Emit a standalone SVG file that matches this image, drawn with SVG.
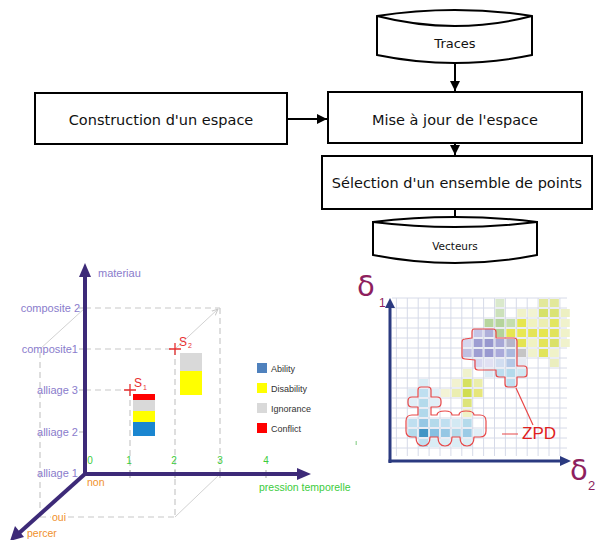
<svg xmlns="http://www.w3.org/2000/svg" width="597" height="540" viewBox="0 0 597 540">
<style>
.box{fill:#fff;stroke:#000;stroke-width:2}
.ft{font-family:"DejaVu Sans",Verdana,sans-serif;fill:#111;text-anchor:middle}
.ch{font-family:"Liberation Sans",Arial,sans-serif}
.lab{fill:#8a7ccc;font-size:11px;text-anchor:end}
.num{fill:#3ccc3c;font-size:10px;text-anchor:middle}
.org{fill:#f0902c;font-size:10.5px}
.dash{stroke:#c8c8c8;stroke-width:1.2;stroke-dasharray:6 4;fill:none}
.thin{stroke:#d2d2d2;stroke-width:1;fill:none}
.tick{stroke:#b8b8b8;stroke-width:1.2}
.leg{fill:#333;font-size:9px}
.red{fill:#e83030}
.cont{fill:none;stroke:#e84848;stroke-width:1.2;stroke-linejoin:round}
</style>
<defs>
<marker id="ah" viewBox="0 0 10 10" refX="10" refY="5" markerWidth="10" markerHeight="10" markerUnits="userSpaceOnUse" orient="auto"><path d="M0,0 L10,5 L0,10 Z" fill="#000"/></marker>
<marker id="ga" viewBox="0 0 10 10" refX="9" refY="5" markerWidth="7" markerHeight="7" markerUnits="userSpaceOnUse" orient="auto"><path d="M0,1 L9,5 L0,9" fill="none" stroke="#c8c8c8" stroke-width="1.4"/></marker>
<filter id="soft" x="-5%" y="-5%" width="110%" height="110%"><feGaussianBlur stdDeviation="0.7"/></filter>
</defs>

<!-- Flowchart -->
<g id="traces">
<path class="box" d="M377 16 Q455 4 532 16 L532 55 Q455 71 377 55 Z"/>
<path d="M377 16 Q455 36 532 16" fill="none" stroke="#000" stroke-width="2"/>
<text class="ft" x="455" y="48" font-size="13">Traces</text>
</g>
<g id="construction">
<rect class="box" x="35" y="93" width="252" height="51"/>
<text class="ft" x="161" y="125" font-size="14.5">Construction d'un espace</text>
</g>
<g id="mise">
<rect class="box" x="328" y="92" width="254" height="51"/>
<text class="ft" x="455" y="125" font-size="14.5">Mise à jour de l'espace</text>
</g>
<g id="selection">
<rect class="box" x="322" y="156" width="270" height="53"/>
<text class="ft" x="457" y="188" font-size="14.5">Sélection d'un ensemble de points</text>
</g>
<g id="vecteurs">
<path class="box" d="M373 222 Q455 212 537 222 L537 255 Q455 271 373 255 Z"/>
<path d="M373 222 Q455 232 537 222" fill="none" stroke="#000" stroke-width="2"/>
<text class="ft" x="455" y="250" font-size="10.5">Vecteurs</text>
</g>
<g id="connectors" stroke="#000" stroke-width="2" fill="none">
<line x1="455" y1="64" x2="455" y2="91" marker-end="url(#ah)"/>
<line x1="287" y1="119" x2="327" y2="119" marker-end="url(#ah)"/>
<line x1="455" y1="144" x2="455" y2="155" marker-end="url(#ah)"/>
<line x1="455" y1="209" x2="455" y2="218"/>
</g>

<!-- 3D chart -->
<g id="chart3d" class="ch">
<path class="dash" d="M85 308 H220 M85 349 H175 M85 390 H130 M130 390 V474 M175 349 V517 M220 308 V474 M40 352 V517 M40 517 H51 M68 517 H175"/>
<path class="thin" d="M40 349 L85 308 M175 517 L220 474"/>
<line class="thin" x1="175" y1="349" x2="218" y2="309" marker-end="url(#ga)"/>
<path class="tick" d="M79 308 H85 M79 349 H85 M79 390 H85 M79 432 H85 M130 470 V478 M175 470 V478 M220 470 V478 M266 470 V478"/>
<g fill="#3d2a78" stroke="none">
<rect x="83" y="272" width="4" height="204"/>
<polygon points="85,263 79,277 91,277"/>
<rect x="85" y="472" width="216" height="4"/>
<polygon points="311,474 297,468 297,480"/>
<line x1="86" y1="473" x2="18" y2="534" stroke="#3d2a78" stroke-width="4"/>
<polygon points="10,541 24,537 15,526"/>
</g>
<text x="98" y="277" fill="#8a7ccc" font-size="11">materiau</text>
<text class="lab" x="80" y="312">composite 2</text>
<text class="lab" x="78" y="353">composite1</text>
<text class="lab" x="78" y="394">alliage 3</text>
<text class="lab" x="78" y="436">alliage 2</text>
<text class="lab" x="78" y="477">alliage 1</text>
<text class="num" x="90" y="464">0</text>
<text class="num" x="129" y="464">1</text>
<text class="num" x="174" y="464">2</text>
<text class="num" x="220" y="464">3</text>
<text class="num" x="266" y="464">4</text>
<text x="259" y="491" fill="#3ccc3c" font-size="10.5">pression temporelle</text>
<text class="org" x="87" y="486">non</text>
<text class="org" x="52" y="521">oui</text>
<text class="org" x="27" y="537">percer</text>
<!-- bars -->
<rect x="133" y="394" width="22" height="6" fill="#ff0000"/>
<rect x="133" y="400" width="22" height="11" fill="#d9d9d9"/>
<rect x="133" y="411" width="22" height="11" fill="#ffff00"/>
<rect x="133" y="422" width="22" height="14" fill="#1a86d0"/>
<rect x="180" y="353" width="22" height="18" fill="#d9d9d9"/>
<rect x="180" y="371" width="22" height="24" fill="#ffff00"/>
<path d="M124 390 H136 M130 384 V396 M169 349 H181 M175 343 V355" stroke="#e83030" stroke-width="1.3"/>
<text class="red" x="134" y="387" font-size="12">S</text>
<text class="red" x="143" y="390" font-size="7">1</text>
<text class="red" x="179" y="346" font-size="12">S</text>
<text class="red" x="188" y="348" font-size="7">2</text>
<!-- legend -->
<rect x="257" y="363" width="10" height="10" fill="#4f81bd"/>
<rect x="257" y="383" width="10" height="10" fill="#ffff00"/>
<rect x="257" y="403" width="10" height="10" fill="#d9d9d9"/>
<rect x="257" y="423" width="10" height="10" fill="#ff0000"/>
<text class="leg" x="271" y="372">Ability</text>
<text class="leg" x="271" y="392">Disability</text>
<text class="leg" x="271" y="412">Ignorance</text>
<text class="leg" x="271" y="432">Conflict</text>
<rect x="355.5" y="441" width="1.5" height="4" fill="#a8dca8"/>
</g>

<!-- ZPD plot -->
<g id="zpd-plot" class="ch">
<path stroke="#d6dae8" stroke-width="1" fill="none" d="M396.4 298 V456 M407.3 298 V456 M418.2 298 V456 M429.1 298 V456 M440 298 V456 M450.9 298 V456 M461.8 298 V456 M472.7 298 V456 M483.6 298 V456 M494.5 298 V456 M505.4 298 V456 M516.3 298 V456 M527.2 298 V456 M538.1 298 V456 M549 298 V456 M559.9 298 V456 M392 298 H567 M392 308 H567 M392 318 H567 M392 328 H567 M392 338 H567 M392 348 H567 M392 358 H567 M392 368 H567 M392 378 H567 M392 388 H567 M392 398 H567 M392 408 H567 M392 418 H567 M392 428 H567 M392 438 H567 M392 448 H567"/>
<g filter="url(#soft)" opacity="0.85">
<rect x="539" y="299" width="9" height="8" fill="#dde58a"/>
<rect x="549.9" y="299" width="9" height="8" fill="#dde58a"/>
<rect x="495.4" y="299" width="9" height="8" fill="#d4e6c4"/>
<rect x="495.4" y="309" width="9" height="8" fill="#c4dcae"/>
<rect x="517.2" y="309" width="9" height="8" fill="#eef0c0"/>
<rect x="528.1" y="309" width="9" height="8" fill="#f0f2cc"/>
<rect x="539" y="309" width="9" height="8" fill="#cfdc50"/>
<rect x="549.9" y="309" width="9" height="8" fill="#d4df5c"/>
<rect x="560.8" y="309" width="9" height="8" fill="#ebeeb8"/>
<rect x="484.5" y="319" width="9" height="8" fill="#accf8e"/>
<rect x="495.4" y="319" width="9" height="8" fill="#a9cd8a"/>
<rect x="506.3" y="319" width="9" height="8" fill="#bcd9a0"/>
<rect x="517.2" y="319" width="9" height="8" fill="#e2e232"/>
<rect x="528.1" y="319" width="9" height="8" fill="#eef0b4"/>
<rect x="539" y="319" width="9" height="8" fill="#e9eca4"/>
<rect x="549.9" y="319" width="9" height="8" fill="#dde244"/>
<rect x="560.8" y="319" width="9" height="8" fill="#eef0c4"/>
<rect x="473.6" y="329" width="9" height="8" fill="#bcbce2"/>
<rect x="484.5" y="329" width="9" height="8" fill="#a2a2d4"/>
<rect x="495.4" y="329" width="9" height="8" fill="#a8cc88"/>
<rect x="506.3" y="329" width="9" height="8" fill="#e2e232"/>
<rect x="517.2" y="329" width="9" height="8" fill="#e4e436"/>
<rect x="528.1" y="329" width="9" height="8" fill="#e0e03a"/>
<rect x="539" y="329" width="9" height="8" fill="#e2e232"/>
<rect x="549.9" y="329" width="9" height="8" fill="#dcdf40"/>
<rect x="560.8" y="329" width="9" height="8" fill="#eef0c0"/>
<rect x="462.7" y="339" width="9" height="8" fill="#cfcfec"/>
<rect x="473.6" y="339" width="9" height="8" fill="#8e8ecb"/>
<rect x="484.5" y="339" width="9" height="8" fill="#8686c6"/>
<rect x="495.4" y="339" width="9" height="8" fill="#9898cf"/>
<rect x="506.3" y="339" width="9" height="8" fill="#a9a9c2"/>
<rect x="517.2" y="339" width="9" height="8" fill="#e0e034"/>
<rect x="528.1" y="339" width="9" height="8" fill="#eef0b8"/>
<rect x="539" y="339" width="9" height="8" fill="#e0e03a"/>
<rect x="549.9" y="339" width="9" height="8" fill="#d4dc50"/>
<rect x="560.8" y="339" width="9" height="8" fill="#eef0c4"/>
<rect x="462.7" y="349" width="9" height="8" fill="#b4b4de"/>
<rect x="473.6" y="349" width="9" height="8" fill="#8e8ecb"/>
<rect x="484.5" y="349" width="9" height="8" fill="#8888c8"/>
<rect x="495.4" y="349" width="9" height="8" fill="#9c9cd4"/>
<rect x="506.3" y="349" width="9" height="8" fill="#9cacd8"/>
<rect x="517.2" y="349" width="9" height="8" fill="#bcbcbc"/>
<rect x="528.1" y="349" width="9" height="8" fill="#eef0c4"/>
<rect x="539" y="349" width="9" height="8" fill="#dce040"/>
<rect x="549.9" y="349" width="9" height="8" fill="#eef0c0"/>
<rect x="473.6" y="359" width="9" height="8" fill="#d2d2ee"/>
<rect x="484.5" y="359" width="9" height="8" fill="#dcdcf2"/>
<rect x="495.4" y="359" width="9" height="8" fill="#cad8ee"/>
<rect x="506.3" y="359" width="9" height="8" fill="#a8bfe2"/>
<rect x="517.2" y="359" width="9" height="8" fill="#e2e8f2"/>
<rect x="549.9" y="359" width="9" height="8" fill="#e8ecb4"/>
<rect x="462.7" y="369" width="9" height="8" fill="#eef0c4"/>
<rect x="484.5" y="369" width="9" height="8" fill="#d8e8f4"/>
<rect x="495.4" y="369" width="9" height="8" fill="#b2d8ec"/>
<rect x="506.3" y="369" width="9" height="8" fill="#a8d4e8"/>
<rect x="517.2" y="369" width="9" height="8" fill="#c8e4f0"/>
<rect x="419.1" y="379" width="9" height="8" fill="#d4eaf4"/>
<rect x="451.8" y="379" width="9" height="8" fill="#f0f0c8"/>
<rect x="462.7" y="379" width="9" height="8" fill="#d0dc44"/>
<rect x="473.6" y="379" width="9" height="8" fill="#e8ec9c"/>
<rect x="506.3" y="379" width="9" height="8" fill="#b4daee"/>
<rect x="408.2" y="389" width="9" height="8" fill="#dcedf6"/>
<rect x="419.1" y="389" width="9" height="8" fill="#b4daee"/>
<rect x="430" y="389" width="9" height="8" fill="#dcedf6"/>
<rect x="440.9" y="389" width="9" height="8" fill="#f2f2d0"/>
<rect x="451.8" y="389" width="9" height="8" fill="#e8eca4"/>
<rect x="462.7" y="389" width="9" height="8" fill="#c8d834"/>
<rect x="473.6" y="389" width="9" height="8" fill="#e2e264"/>
<rect x="408.2" y="399" width="9" height="8" fill="#dcedf6"/>
<rect x="419.1" y="399" width="9" height="8" fill="#a8d4e8"/>
<rect x="430" y="399" width="9" height="8" fill="#dcedf6"/>
<rect x="462.7" y="399" width="9" height="8" fill="#d8e064"/>
<rect x="419.1" y="409" width="9" height="8" fill="#a4d2e8"/>
<rect x="462.7" y="409" width="9" height="8" fill="#eef0bc"/>
<rect x="408.2" y="419" width="9" height="8" fill="#b4daee"/>
<rect x="419.1" y="419" width="9" height="8" fill="#84bee0"/>
<rect x="430" y="419" width="9" height="8" fill="#a8d4e8"/>
<rect x="440.9" y="419" width="9" height="8" fill="#b4daee"/>
<rect x="451.8" y="419" width="9" height="8" fill="#cce6f2"/>
<rect x="462.7" y="419" width="9" height="8" fill="#a8d4e8"/>
<rect x="408.2" y="429" width="9" height="8" fill="#a8d4e8"/>
<rect x="419.1" y="429" width="9" height="8" fill="#2282bc"/>
<rect x="430" y="429" width="9" height="8" fill="#72b6de"/>
<rect x="440.9" y="429" width="9" height="8" fill="#84bee0"/>
<rect x="451.8" y="429" width="9" height="8" fill="#a8d4e8"/>
<rect x="462.7" y="429" width="9" height="8" fill="#8ac2e2"/>
<rect x="473.6" y="429" width="9" height="8" fill="#dcedf6"/>
<rect x="419.1" y="439" width="9" height="8" fill="#b4daee"/>
<rect x="430" y="439" width="9" height="8" fill="#d4eaf4"/>
<rect x="440.9" y="439" width="9" height="8" fill="#d4eaf4"/>
<rect x="451.8" y="439" width="9" height="8" fill="#d4eaf4"/>
<rect x="462.7" y="439" width="9" height="8" fill="#d4eaf4"/>
</g>
<path class="cont" d="M474 329 L493 329 Q496 329 496 332 L496 338 L514 338 Q517 338 517 341 L517 366 L524 366 Q527 366 527 369 L527 374 Q527 377 524 377 L517 377 L517 384 Q517 387 514 387 L508 387 Q505 387 505 384 L505 377 L499 377 Q496 377 496 374 L496 370 L478 370 Q475 370 475 367 L475 360 L465 359 Q462 359 462 356 L462 342 Q462 339 465 339 L472 338 L472 332 Q472 329 474 329 Z"/>
<path class="cont" d="M421 387 L428 387 Q431 387 431 390 L431 397 L437 397 Q441 397 441 401 L441 403 Q441 407 437 407 L431 407 L431 415 L437 415 Q437 411 445 411 Q452 411 452 415 L459 415 Q459 411 466 411 Q474 411 474 415 L480 415 Q486 415 486 421 L486 431 Q486 437 480 437 L474 437 Q474 446 467 446 Q460 446 460 437 L452 437 Q452 446 445 446 Q438 446 438 437 L430 437 Q430 446 423 446 Q416 446 416 437 L412 437 Q406 437 406 431 L406 421 Q406 415 412 415 L418 415 L418 407 L412 407 Q408 407 408 403 L408 401 Q408 397 412 397 L418 397 L418 390 Q418 387 421 387 Z"/>
<path d="M516 388 L533 425 M502 434 H518" stroke="#e84848" stroke-width="1.2" fill="none"/>
<text x="522" y="439" fill="#e02020" font-size="17">ZPD</text>
<g fill="#2b3a80">
<rect x="388.5" y="306" width="3" height="157"/>
<polygon points="390,298 385,308 395,308"/>
<rect x="388.5" y="459.5" width="172" height="3"/>
<polygon points="571,461 560,456 560,466"/>
</g>
<text x="357" y="296" fill="#8e1f5e" font-size="29" font-family="DejaVu Sans, sans-serif" font-weight="normal">δ</text>
<text x="379" y="307" fill="#8e1f5e" font-size="12">1</text>
<text x="570" y="480" fill="#8e1f5e" font-size="29" font-family="DejaVu Sans, sans-serif">δ</text>
<text x="588" y="490" fill="#8e1f5e" font-size="13">2</text>
</g>
</svg>
